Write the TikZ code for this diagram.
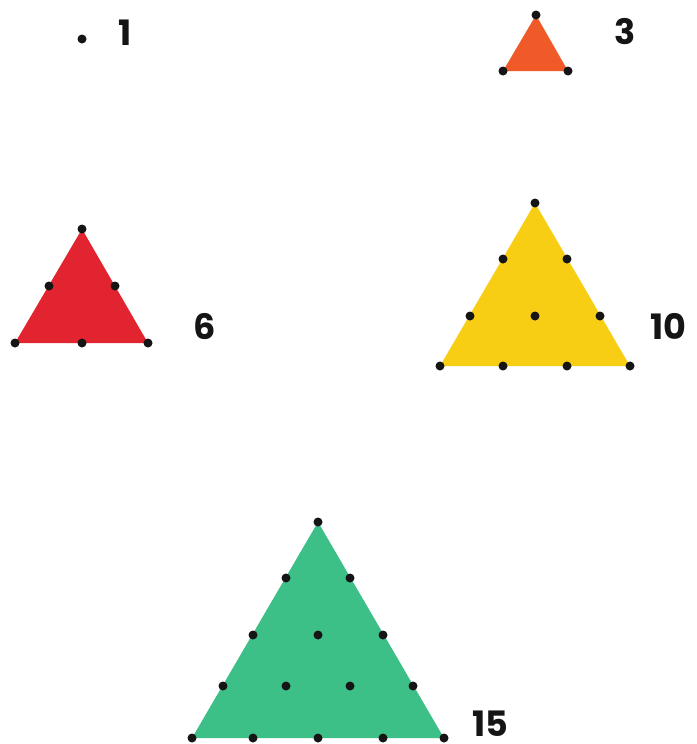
\documentclass[tikz,border=0pt]{standalone}
\usepackage{fontspec}
\setmainfont{Poppins}[UprightFont=* Bold]
\definecolor{triorange}{HTML}{F05A28}
\definecolor{trired}{HTML}{E22430}
\definecolor{triyellow}{HTML}{F7CE14}
\definecolor{trigreen}{HTML}{3DC088}
\definecolor{dotcol}{HTML}{151515}
\begin{document}
\begin{tikzpicture}[x=1pt,y=-1pt,
  pin/.style={circle,fill=dotcol,inner sep=0pt,minimum size=9pt},
  num/.style={font=\fontsize{35}{35}\selectfont,text=dotcol,inner sep=0pt,text depth=0pt,anchor=base}]
\useasboundingbox (0,0) rectangle (696,744);
% 1
\node[pin] (a1) at (82,39) {};
\node[num] (l1) at (125,45) {1};
% 3
\coordinate (b1) at (536,15);
\coordinate (b2) at (503,71);
\coordinate (b3) at (568,71);
\fill[triorange] (b1) -- (b2) -- (b3) -- cycle;
\foreach \p in {b1,b2,b3} \node[pin] (d\p) at (\p) {};
\node[num] (l3) at (625,44) {3};
% 6
\coordinate (c1) at (82,229);
\coordinate (c2) at (15,343);
\coordinate (c3) at (148,343);
\fill[trired] (c1) -- (c2) -- (c3) -- cycle;
\foreach \x/\y [count=\i] in {82/229,49/286,115/286,15/343,82/343,148/343}
  \node[pin] (c\i d) at (\x,\y) {};
\node[num] (l6) at (205,339) {6};
% 10
\coordinate (y1) at (535,203);
\coordinate (y2) at (440,366);
\coordinate (y3) at (630,366);
\fill[triyellow] (y1) -- (y2) -- (y3) -- cycle;
\foreach \x/\y [count=\i] in {535/203,503/259,567/259,470/316,535/316,600/316,440/366,503/366,567/366,630/366}
  \node[pin] (y\i d) at (\x,\y) {};
\node[num] (l10) at (668,339) {10};
% 15
\coordinate (g1) at (318,522);
\coordinate (g2) at (192,738);
\coordinate (g3) at (444,738);
\fill[trigreen] (g1) -- (g2) -- (g3) -- cycle;
\foreach \x/\y [count=\i] in {318/522,286/578,350/578,253/635,318/635,383/635,223/686,286/686,350/686,413/686,192/738,253/738,318/738,383/738,444/738}
  \node[pin] (g\i d) at (\x,\y) {};
\node[num] (l15) at (490,736) {15};
\end{tikzpicture}
\end{document}
